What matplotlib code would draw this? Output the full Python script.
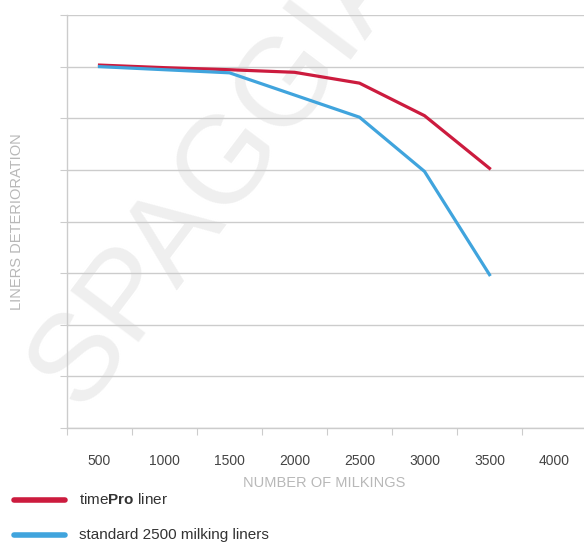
import numpy as np
import matplotlib
matplotlib.use('Agg')
import matplotlib.pyplot as plt

plt.rcParams['font.family'] = ['Liberation Sans', 'DejaVu Sans']
plt.rcParams['mathtext.fontset'] = 'custom'
plt.rcParams['mathtext.rm'] = 'Liberation Sans'
plt.rcParams['mathtext.bf'] = 'Liberation Sans:bold'

# data (y in grid units, 0..8)
milkings = ['500', '1000', '1500', '2000', '2500', '3000', '3500', '4000']
timepro = [7.03, 6.98, 6.94, 6.89, 6.68, 6.05, 5.03]
standard = [7.00, 6.94, 6.88, 6.45, 6.02, 4.97, 2.97]

red = '#cc1b3e'
blue = '#40a4dd'
grid_col = '#cccccc'

fig = plt.figure(figsize=(5.84, 5.42), dpi=100)
ax = fig.add_axes([67/584, 1 - 428/542, 517/584, 413/542])
ax.set_facecolor('none')

# watermark
fig.text(0.1385, 0.2413, 'SPAGGIARI', rotation=53, fontsize=90, color='#efefef',
         ha='left', va='baseline', rotation_mode='anchor', zorder=-1)

x = np.arange(len(timepro))
ax.plot(x, timepro, color=red, lw=2.3, zorder=3)
ax.plot(x, standard, color=blue, lw=2.3, zorder=3)

ax.set_xlim(-0.5, -0.5 + 517/65)
ax.set_ylim(0, 8)

ax.set_xticks(np.arange(len(milkings)) - 0.5)
ax.set_xticklabels([])
ax.set_xticks(np.arange(len(milkings)), labels=milkings, minor=True)
ax.tick_params(axis='x', which='major', length=5, color=grid_col, direction='out')
ax.tick_params(axis='x', which='minor', length=0, pad=19, labelsize=10, labelcolor='#444444')

ax.set_yticks(np.arange(0, 9))
ax.set_yticklabels([])
ax.tick_params(axis='y', length=5, color=grid_col, direction='out')
ax.grid(axis='y', color=grid_col, lw=1)
ax.set_axisbelow(True)

for s in ['top', 'right']:
    ax.spines[s].set_visible(False)
for s in ['left', 'bottom']:
    ax.spines[s].set_color(grid_col)
    ax.spines[s].set_linewidth(1)

fig.text(324/584, 1 - 483/542, 'NUMBER OF MILKINGS', ha='center', va='center',
         fontsize=10.5, color='#b8b8b8')
fig.text(17/584, 1 - 222/542, 'LINERS DETERIORATION', ha='center', va='center',
         rotation=90, fontsize=10.5, color='#b8b8b8')

# legend
for yy, col in [(500, red), (535, blue)]:
    fig.add_artist(plt.Line2D([14/584, 65/584], [1 - yy/542] * 2, color=col,
                              lw=4, solid_capstyle='round'))

fig.text(79/584, 1 - 500/542, r'time$\mathbf{Pro}$ liner', fontsize=11,
         color='#333333', va='center')
fig.text(79/584, 1 - 535/542, 'standard 2500 milking liners', fontsize=11,
         color='#333333', va='center')

fig.savefig('out.png', dpi=100)
